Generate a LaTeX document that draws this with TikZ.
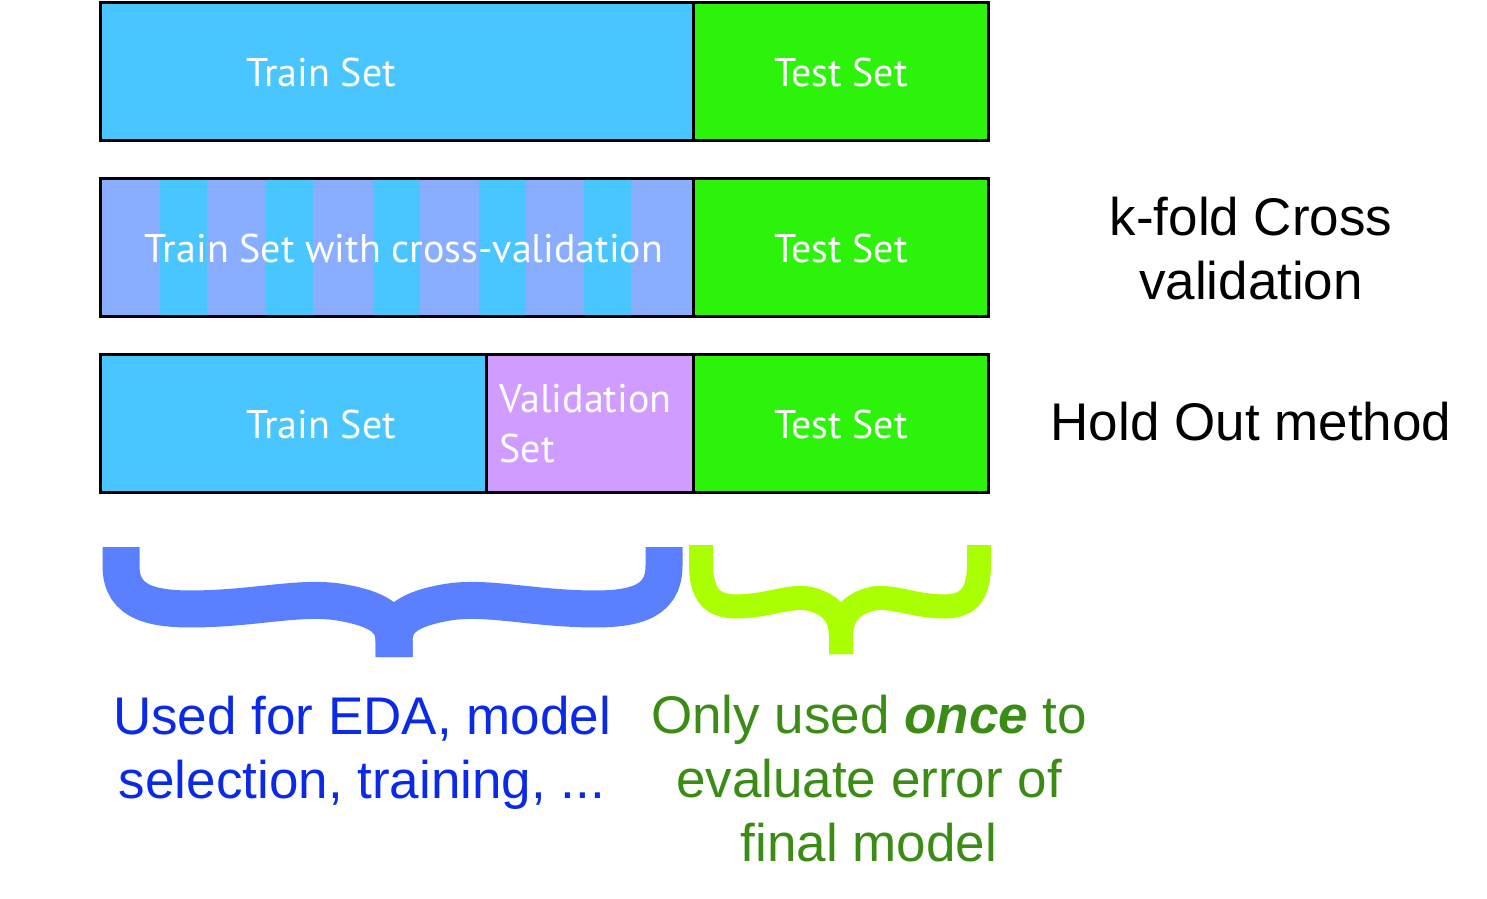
\documentclass[tikz,border=0pt]{standalone}
\usepackage{fontspec}
\setmainfont{Liberation Sans}
\newfontfamily\boxfont{PT Sans}
\definecolor{trainblue}{RGB}{73,198,255}
\definecolor{testgreen}{RGB}{45,242,10}
\definecolor{foldblue}{RGB}{138,174,255}
\definecolor{validpurple}{RGB}{208,156,255}
\definecolor{braceblue}{RGB}{91,128,255}
\definecolor{bracegreen}{RGB}{170,255,0}
\definecolor{usedblue}{RGB}{10,42,232}
\definecolor{oncegreen}{RGB}{58,140,20}
\def\bracehalf{%
    \draw [line cap=butt] (0,0) -- (0,0.17)
        .. controls (0,0.52) and (0.12,0.58) .. (0.32,0.56)
        .. controls (0.53,0.54) and (0.68,0.44) .. (0.82,0.51)
        .. controls (0.97,0.58) and (1,0.7) .. (1,0.86) -- (1,1);
}
\tikzset{
    setbox/.style={draw, line width=3pt, minimum height=138pt, inner sep=0pt, outer sep=0pt, anchor=north west},
    settext/.style={text=white, font=\boxfont\fontsize{40}{50}\selectfont, anchor=base},
    sidetext/.style={font=\fontsize{53}{64}\selectfont, align=center}
}

\begin{document}
\begin{tikzpicture}[x=1pt,y=-1pt]
\fill [white] (0,0) rectangle (1487,898);
\useasboundingbox (0,0) rectangle (1487,898);
% first bar
\node [setbox, fill=trainblue, minimum width=593pt] (trainA) at (100,2) {};
\node [setbox, fill=testgreen, minimum width=295pt] (testA) at (693,2) {};
\node [settext] (trainAtext) at (321,86) {Train Set};
\node [settext] (testAtext) at (841,86) {Test Set};
% second bar
\node [setbox, draw=none, fill=foldblue, minimum width=593pt] (cvB) at (100,178) {};
\foreach \x in {160,266,373,479,584}
    \fill [trainblue] (\x,178) rectangle ++(47,138);
\draw [line width=3pt] (cvB.north west) rectangle (cvB.south east);
\node [setbox, fill=testgreen, minimum width=295pt] (testB) at (693,178) {};
\node [settext] (cvBtext) at (404,262) {Train Set with cross-validation};
\node [settext] (testBtext) at (841,262) {Test Set};
% third bar
\node [setbox, fill=trainblue, minimum width=386pt] (trainC) at (100,354) {};
\node [setbox, fill=validpurple, minimum width=207pt] (validC) at (486,354) {};
\node [setbox, fill=testgreen, minimum width=295pt] (testC) at (693,354) {};
\node [settext] (trainCtext) at (321,438) {Train Set};
\node [settext, anchor=west, align=left] (validCtext) at (496,424) {Validation\\Set};
\node [settext] (testCtext) at (841,438) {Test Set};
% names of the methods
\node [sidetext] (kfold) at (1251,249) {k-fold Cross\\validation};
\node [sidetext, anchor=base] (holdout) at (1251,440) {Hold Out method};
% braces
\begin{scope}[shift={(121,547)}, xscale=273, yscale=110, braceblue, line width=37pt]
    \bracehalf
\end{scope}
\begin{scope}[shift={(664,547)}, xscale=-270, yscale=110, braceblue, line width=37pt]
    \bracehalf
\end{scope}
\begin{scope}[shift={(701,545)}, xscale=140, yscale=109, bracegreen, line width=24pt]
    \bracehalf
\end{scope}
\begin{scope}[shift={(979,545)}, xscale=-138, yscale=109, bracegreen, line width=24pt]
    \bracehalf
\end{scope}
\node [sidetext, text=usedblue] (used) at (362,753) {Used for EDA, model\\selection, training, ...};
\node [sidetext, text=oncegreen] (once) at (869,779) {Only used \textbf{\textit{once}} to\\evaluate error of\\final model};
\end{tikzpicture}
\end{document}
